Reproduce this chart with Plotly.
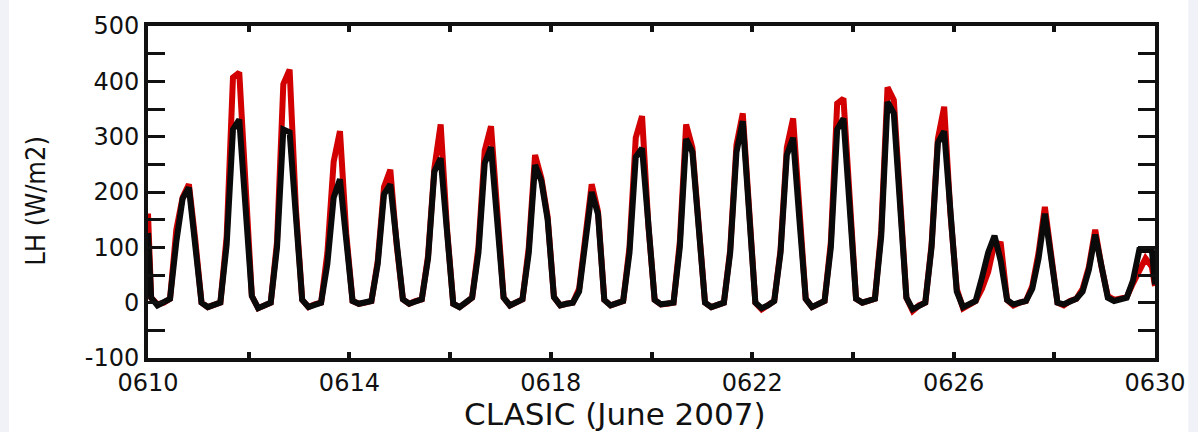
import plotly.graph_objects as go

# ---- data: 3-hourly latent heat flux, 8 samples per day (0610 .. 0629) ----
steps_per_day = 8
n_days = 20

start_red = 161
start_black = 126
end_red = 30
end_black = 33

black_vals = [
    9, -5, 0, 7, 110, 188, 208, 110,      # 0610
    0, -8, -3, 0, 105, 313, 331, 165,     # 0611
    12, -10, -5, 0, 100, 313, 308, 150,   # 0612
    5, -8, -3, 0, 70, 190, 223, 110,      # 0613
    3, -2, 0, 3, 70, 196, 214, 100,       # 0614
    6, -2, 3, 6, 80, 237, 261, 120,       # 0615
    -2, -8, 0, 9, 90, 252, 281, 135,      # 0616
    9, -5, 0, 6, 90, 249, 220, 150,       # 0617
    10, -5, -2, 0, 20, 110, 200, 160,     # 0618
    5, -5, 0, 3, 90, 263, 279, 135,       # 0619
    5, -3, -2, 0, 100, 296, 272, 150,     # 0620
    0, -8, -5, 0, 90, 272, 328, 160,      # 0621
    0, -10, -5, 3, 90, 267, 298, 150,     # 0622
    7, -8, -2, 3, 100, 313, 333, 165,     # 0623
    7, 0, 3, 7, 120, 363, 342, 170,       # 0624
    9, -12, -5, 0, 100, 289, 310, 150,    # 0625
    20, -8, -3, 3, 45, 91, 121, 75,       # 0626
    5, -3, 0, 3, 25, 80, 161, 75,         # 0627
    0, -3, 3, 7, 20, 60, 123, 60,         # 0628
    9, 3, 6, 9, 40, 95, 95, 95,           # 0629
]

red_vals = [
    9, -3, 0, 7, 132, 190, 214, 115,      # 0610
    0, -8, -3, 0, 120, 407, 416, 190,     # 0611
    12, -10, -5, 0, 110, 395, 421, 170,   # 0612
    5, -8, -3, 0, 90, 255, 310, 125,      # 0613
    3, -2, 0, 3, 75, 209, 240, 105,       # 0614
    6, -2, 3, 6, 85, 243, 322, 135,       # 0615
    -2, -8, 0, 9, 100, 275, 319, 145,     # 0616
    9, -5, 0, 6, 100, 267, 225, 155,      # 0617
    10, -5, -2, 0, 25, 121, 214, 165,     # 0618
    5, -5, 0, 3, 100, 298, 337, 140,      # 0619
    5, -3, -2, 0, 110, 322, 280, 155,     # 0620
    0, -8, -5, 0, 95, 285, 342, 165,      # 0621
    0, -12, -5, 3, 95, 280, 333, 155,     # 0622
    7, -8, -2, 3, 110, 360, 369, 170,     # 0623
    7, 0, 3, 7, 130, 389, 366, 175,       # 0624
    9, -15, -5, 0, 105, 296, 354, 160,    # 0625
    25, -10, -3, 3, 25, 56, 108, 106,     # 0626
    5, -5, 0, 3, 30, 90, 173, 80,         # 0627
    0, -5, 3, 7, 25, 65, 132, 65,         # 0628
    12, 5, 8, 10, 35, 60, 80, 65,         # 0629
]

x_tick_vals = [0, 2, 4, 6, 8, 10, 12, 14, 16, 18, 20]
x_tick_text = ["0610", "", "0614", "", "0618", "", "0622", "", "0626", "", "0630"]
y_tick_vals = [-100, -50, 0, 50, 100, 150, 200, 250, 300, 350, 400, 450, 500]
y_tick_text = ["-100", "", "0", "", "100", "", "200", "", "300", "", "400", "", "500"]

# time axis in days since 0610 00 UTC (samples centred in 3-hour windows)
times = [0.0] + [d + (k + 0.5) / steps_per_day for d in range(n_days) for k in range(steps_per_day)] + [float(n_days)]
red_series = [start_red] + red_vals + [end_red]
black_series = [start_black] + black_vals + [end_black]

fig = go.Figure()
fig.add_trace(go.Scatter(x=times, y=red_series, mode="lines",
                         line=dict(color="#d20000", width=6), showlegend=False))
fig.add_trace(go.Scatter(x=times, y=black_series, mode="lines",
                         line=dict(color="#0a0a0a", width=6), showlegend=False))

tick_font = dict(family="DejaVu Sans, Verdana, sans-serif", size=24, color="#111111")

fig.update_layout(
    width=1198, height=432,
    margin=dict(l=148, r=41, t=16, b=74),
    paper_bgcolor="white", plot_bgcolor="white",
    xaxis=dict(range=[0, 20], tickmode="array", tickvals=x_tick_vals, ticktext=x_tick_text,
               ticks="inside", ticklen=6, tickwidth=4, tickcolor="#111",
               showline=True, linewidth=4, linecolor="#111", mirror="ticks",
               showgrid=False, zeroline=False, tickfont=tick_font),
    yaxis=dict(range=[-100, 500], tickmode="array", tickvals=y_tick_vals, ticktext=y_tick_text,
               ticks="inside", ticklen=17, tickwidth=3, tickcolor="#111",
               showline=True, linewidth=4, linecolor="#111", mirror="ticks",
               showgrid=False, zeroline=False, tickfont=tick_font),
    annotations=[
        dict(text="CLASIC (June 2007)", xref="paper", yref="paper", x=0.464, y=-0.17,
             xanchor="center", yanchor="middle", showarrow=False,
             font=dict(family="DejaVu Sans, Verdana, sans-serif", size=31, color="#111111")),
        dict(text="LH (W/m2)", xref="paper", yref="paper", x=-0.112, y=0.474,
             xanchor="center", yanchor="middle", textangle=-90, showarrow=False,
             font=dict(family="DejaVu Sans Condensed, DejaVu Sans, sans-serif",
                       size=27, color="#111111")),
    ],
    shapes=[
        dict(type="rect", xref="paper", yref="paper", x0=-0.147, x1=-0.138, y0=-0.3, y1=1.1,
             fillcolor="#f1f1f8", line=dict(width=0), layer="below"),
        dict(type="rect", xref="paper", yref="paper", x0=1.033, x1=1.05, y0=-0.3, y1=1.1,
             fillcolor="#f1f1f8", line=dict(width=0), layer="below"),
    ],
)

fig.write_html("out.html")
